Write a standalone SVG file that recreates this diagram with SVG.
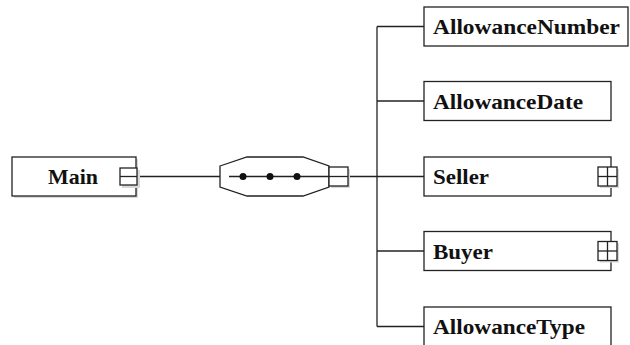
<svg xmlns="http://www.w3.org/2000/svg" width="630" height="345" viewBox="0 0 630 345">
<defs>
<style>
.box{fill:#fff;stroke:#222;stroke-width:1.3}
.shadow{fill:#d8d8d8;stroke:none}
.lbl{font-family:"Liberation Serif","Times New Roman",serif;font-weight:bold;font-size:22px;fill:#111}
.ln{stroke:#222;stroke-width:1.3;fill:none}
.sym{fill:#fff;stroke:#222;stroke-width:1.3}
</style>
</defs>
<rect width="630" height="345" fill="#fff"/>
<g id="connectors">
<line class="ln" x1="137" y1="176.5" x2="220" y2="176.5"/>
<line class="ln" x1="348" y1="176.5" x2="424" y2="176.5"/>
<line class="ln" x1="377" y1="26.5" x2="377" y2="326.5"/>
<line class="ln" x1="377" y1="26.5" x2="424" y2="26.5"/>
<line class="ln" x1="377" y1="101" x2="424" y2="101"/>
<line class="ln" x1="377" y1="251" x2="424" y2="251"/>
<line class="ln" x1="377" y1="326.5" x2="424" y2="326.5"/>
</g>
<g id="main">
<rect class="shadow" x="14" y="159" width="124" height="39"/>
<rect class="box" x="12" y="157" width="124" height="39"/>
<text class="lbl" x="48" y="184" textLength="50" lengthAdjust="spacingAndGlyphs">Main</text>
<rect class="shadow" x="122" y="170" width="18" height="18"/>
<rect class="sym" x="120" y="168" width="17" height="17"/>
<line class="ln" x1="120" y1="176.5" x2="137" y2="176.5"/>
</g>
<g id="sequence">
<polygon class="box" points="220,166 247,157 303,157 329,166 329,187 303,196 247,196 220,187"/>
<line class="ln" x1="229" y1="176.5" x2="329" y2="176.5"/>
<circle cx="243" cy="176.5" r="3.5" fill="#111"/>
<circle cx="270" cy="176.5" r="3.5" fill="#111"/>
<circle cx="297" cy="176.5" r="3.5" fill="#111"/>
<rect class="shadow" x="331" y="169" width="19" height="19"/>
<rect class="sym" x="329" y="167" width="19" height="19"/>
<line class="ln" x1="329" y1="176.5" x2="348" y2="176.5"/>
</g>
<g id="allowanceNumber">
<rect class="box" x="424" y="7" width="204" height="39"/>
<text class="lbl" x="433" y="34" textLength="187" lengthAdjust="spacingAndGlyphs">AllowanceNumber</text>
</g>
<g id="allowanceDate">
<rect class="box" x="424" y="81.5" width="187" height="39"/>
<text class="lbl" x="433" y="108.5" textLength="150" lengthAdjust="spacingAndGlyphs">AllowanceDate</text>
</g>
<g id="seller">
<rect class="box" x="424" y="157" width="187" height="39"/>
<text class="lbl" x="433" y="184" textLength="56" lengthAdjust="spacingAndGlyphs">Seller</text>
<rect class="shadow" x="600" y="169" width="19" height="19"/>
<rect class="sym" x="598" y="167" width="19" height="19"/>
<line class="ln" x1="598" y1="176.5" x2="617" y2="176.5"/>
<line class="ln" x1="607.5" y1="167" x2="607.5" y2="186"/>
</g>
<g id="buyer">
<rect class="box" x="424" y="231.5" width="187" height="39"/>
<text class="lbl" x="433" y="258.5" textLength="60" lengthAdjust="spacingAndGlyphs">Buyer</text>
<rect class="shadow" x="600" y="243.5" width="19" height="19"/>
<rect class="sym" x="598" y="241.5" width="19" height="19"/>
<line class="ln" x1="598" y1="251" x2="617" y2="251"/>
<line class="ln" x1="607.5" y1="241.5" x2="607.5" y2="260.5"/>
</g>
<g id="allowanceType">
<rect class="box" x="424" y="307" width="187" height="39"/>
<text class="lbl" x="433" y="334" textLength="152" lengthAdjust="spacingAndGlyphs">AllowanceType</text>
</g>
</svg>
